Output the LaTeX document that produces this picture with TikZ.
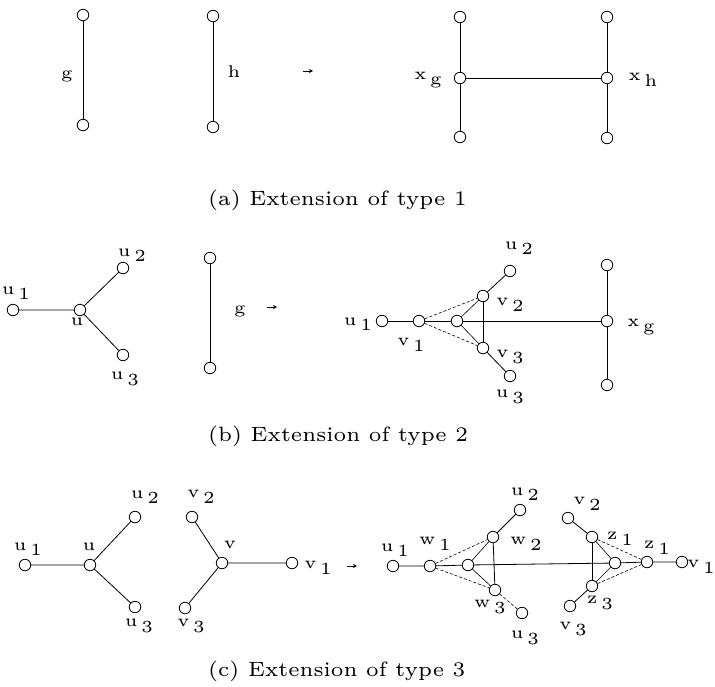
\documentclass[tikz,border=0pt]{standalone}
\usetikzlibrary{arrows.meta}
\newcommand{\lb}[2]{#1\kern1.1pt\raisebox{-0.75ex}{#2}}
\newcommand{\lt}[1]{\scalebox{3.4}{\fontsize{5}{6}\selectfont #1}}
\newcommand{\ct}[1]{\scalebox{3.45}{\fontsize{6}{7}\selectfont #1}}
\begin{document}
\begin{tikzpicture}[x=1pt,y=-1pt,
  vtx/.style={circle,draw,inner sep=0pt,minimum size=11.5pt,line width=0.8pt},
  edge/.style={line width=0.8pt},
  dedge/.style={line width=0.6pt,densely dashed},
  lab/.style={inner sep=0pt},
  captxt/.style={inner sep=0pt,anchor=west},
  arr/.style={-{Stealth[length=4pt,width=4pt]},line width=0.7pt}]
\useasboundingbox (0,0) rectangle (715,686);
% ---------- (a)
\node[vtx] (ga) at (83,15) {};
\node[vtx] (gb) at (83,125) {};
\node[vtx] (ha) at (213,16) {};
\node[vtx] (hb) at (213,127) {};
\draw[edge] (ga) -- (gb);
\draw[edge] (ha) -- (hb);
\node[lab] (lg) at (67,76) {\lt{g}};
\node[lab] (lh) at (234,72) {\lt{h}};
\coordinate (a1) at (303,71); \coordinate (a2) at (313,71);
\draw[arr] (a1) -- (a2);
\node[vtx] (xgt) at (460,17) {};
\node[vtx] (xg) at (460,78) {};
\node[vtx] (xgb) at (460,137) {};
\node[vtx] (xht) at (607,17) {};
\node[vtx] (xh) at (607,78) {};
\node[vtx] (xhb) at (607,138) {};
\draw[edge] (xgt) -- (xg) -- (xgb);
\draw[edge] (xht) -- (xh) -- (xhb);
\draw[edge] (xg) -- (xh);
\node[lab] (lxg) at (428,80) {\lt{\lb{x}{g}}};
\node[lab] (lxh) at (643,80) {\lt{\lb{x}{h}}};
\node[captxt] (capa) at (208,200) {\ct{(a) Extension of type 1}};
% ---------- (b)
\node[vtx] (bu1) at (13,310) {};
\node[vtx] (bu) at (80,310) {};
\node[vtx] (bu2) at (123,268) {};
\node[vtx] (bu3) at (123,355) {};
\draw[edge] (bu1) -- (bu) -- (bu2);
\draw[edge] (bu) -- (bu3);
\node[lab] (lbu1) at (16,293) {\lt{\lb{u}{1}}};
\node[lab] (lbu) at (77,322) {\lt{u}};
\node[lab] (lbu2) at (132,255) {\lt{\lb{u}{2}}};
\node[lab] (lbu3) at (125,379) {\lt{\lb{u}{3}}};
\node[vtx] (bga) at (210,258) {};
\node[vtx] (bgb) at (210,368) {};
\draw[edge] (bga) -- (bgb);
\node[lab] (lbg) at (240,311) {\lt{g}};
\coordinate (b1) at (267,307); \coordinate (b2) at (277,307);
\draw[arr] (b1) -- (b2);
\node[vtx] (ru1) at (382,321) {};
\node[vtx] (rv1) at (419,321) {};
\node[vtx] (rc) at (457,321) {};
\node[vtx] (rv2) at (483,296) {};
\node[vtx] (rv3) at (483,348) {};
\node[vtx] (ru2) at (510,271) {};
\node[vtx] (ru3) at (510,376) {};
\node[vtx] (bxt) at (607,265) {};
\node[vtx] (bx) at (607,321) {};
\node[vtx] (bxb) at (607,385) {};
\draw[edge] (ru1) -- (rv1) -- (rc) -- (bx);
\draw[edge] (bxt) -- (bx) -- (bxb);
\draw[dedge] (rv1) -- (rv2);
\draw[dedge] (rv1) -- (rv3);
\draw[edge,line width=0.6pt] (rc) -- (rv2);
\draw[edge,line width=0.6pt] (rc) -- (rv3);
\draw[edge] (rv2) -- (rv3);
\draw[edge] (rv2) -- (ru2);
\draw[edge] (rv3) -- (ru3);
\node[lab] (lru1) at (358,324) {\lt{\lb{u}{1}}};
\node[lab] (lrv1) at (411,345) {\lt{\lb{v}{1}}};
\node[lab] (lrv2) at (510,305) {\lt{\lb{v}{2}}};
\node[lab] (lrv3) at (510,357) {\lt{\lb{v}{3}}};
\node[lab] (lru2) at (519,248) {\lt{\lb{u}{2}}};
\node[lab] (lru3) at (510,397) {\lt{\lb{u}{3}}};
\node[lab] (lbx) at (641,327) {\lt{\lb{x}{g}}};
\node[captxt] (capb) at (208,436) {\ct{(b) Extension of type 2}};
% ---------- (c)
\node[vtx] (cu1) at (25,565) {};
\node[vtx] (cu) at (90,565) {};
\node[vtx] (cu2) at (135,517) {};
\node[vtx] (cu3) at (135,607) {};
\draw[edge] (cu1) -- (cu) -- (cu2);
\draw[edge] (cu) -- (cu3);
\node[lab] (lcu1) at (28,549) {\lt{\lb{u}{1}}};
\node[lab] (lcu) at (89,547) {\lt{u}};
\node[lab] (lcu2) at (145,497) {\lt{\lb{u}{2}}};
\node[lab] (lcu3) at (139,626) {\lt{\lb{u}{3}}};
\node[vtx] (cv2) at (192,517) {};
\node[vtx] (cv) at (222,563) {};
\node[vtx] (cv1) at (292,563) {};
\node[vtx] (cv3) at (185,608) {};
\draw[edge] (cv2) -- (cv) -- (cv1);
\draw[edge] (cv) -- (cv3);
\node[lab] (lcv2) at (201,497) {\lt{\lb{v}{2}}};
\node[lab] (lcv) at (230,545) {\lt{v}};
\node[lab] (lcv1) at (318,568) {\lt{\lb{v}{1}}};
\node[lab] (lcv3) at (191,626) {\lt{\lb{v}{3}}};
\coordinate (c1) at (347,566); \coordinate (c2) at (357,566);
\draw[arr] (c1) -- (c2);
% right (c)
\node[vtx] (su1) at (393,566) {};
\node[vtx] (sw1) at (430,566) {};
\node[vtx] (sc) at (468,565) {};
\node[vtx] (sw2) at (493,537) {};
\node[vtx] (sw3) at (495,590) {};
\node[vtx] (su2) at (520,510) {};
\node[vtx] (su3) at (522,613) {};
\node[vtx] (tv2) at (568,518) {};
\node[vtx] (tz2) at (592,537) {};
\node[vtx] (tc) at (615,563) {};
\node[vtx] (tz1) at (647,562) {};
\node[vtx] (tv1) at (682,562) {};
\node[vtx] (tz3) at (592,586) {};
\node[vtx] (tv3) at (570,606) {};
\draw[edge] (su1) -- (sw1) -- (sc) -- (tc) -- (tz1) -- (tv1);
\draw[dedge] (sw1) -- (sw2);
\draw[dedge] (sw1) -- (sw3);
\draw[edge,line width=0.6pt] (sc) -- (sw2);
\draw[edge,line width=0.6pt] (sc) -- (sw3);
\draw[edge] (sw2) -- (sw3);
\draw[edge] (sw2) -- (su2);
\draw[dedge] (sw3) -- (su3);
\draw[edge] (tv2) -- (tz2);
\draw[edge] (tv3) -- (tz3);
\draw[edge] (tz2) -- (tz3);
\draw[edge,line width=0.6pt] (tz2) -- (tc);
\draw[edge,line width=0.6pt] (tz3) -- (tc);
\draw[dedge] (tz2) -- (tz1);
\draw[dedge] (tz3) -- (tz1);
\node[lab] (lsu1) at (395,550) {\lt{\lb{u}{1}}};
\node[lab] (lsw1) at (435,544) {\lt{\lb{w}{1}}};
\node[lab] (lsw2) at (526,544) {\lt{\lb{w}{2}}};
\node[lab] (lsw3) at (490,607) {\lt{\lb{w}{3}}};
\node[lab] (lsu2) at (525,494) {\lt{\lb{u}{2}}};
\node[lab] (lsu3) at (525,638) {\lt{\lb{u}{3}}};
\node[lab] (ltv2) at (587,504) {\lt{\lb{v}{2}}};
\node[lab] (ltz2) at (620,539) {\lt{\lb{z}{1}}};
\node[lab] (ltz1) at (657,548) {\lt{\lb{z}{1}}};
\node[lab] (ltv1) at (701,567) {\lt{\lb{v}{1}}};
\node[lab] (ltz3) at (600,603) {\lt{\lb{z}{3}}};
\node[lab] (ltv3) at (573,629) {\lt{\lb{v}{3}}};
\node[captxt] (capc) at (208,671) {\ct{(c) Extension of type 3}};
\end{tikzpicture}
\end{document}
